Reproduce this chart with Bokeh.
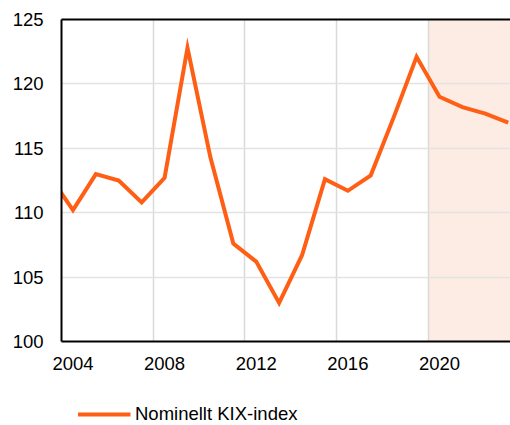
from bokeh.plotting import figure
from bokeh.layouts import column
from bokeh.models import (Range1d, FixedTicker, LinearAxis, BoxAnnotation, Legend, LegendItem)
from bokeh.embed import file_html
from bokeh.resources import INLINE

years = list(range(2003, 2024))
kix = [112.8, 110.2, 113.0, 112.5, 110.8, 112.7, 122.8, 114.3, 107.6, 106.2,
       103.0, 106.7, 112.6, 111.7, 112.9, 117.4, 122.1, 119.0, 118.2, 117.7, 117.0]
x_tick_labels = [2004, 2008, 2012, 2016, 2020]
y_ticks = [100, 105, 110, 115, 120, 125]
forecast_start = 2019.5
series_name = "Nominellt KIX-index"

FONT = "Liberation Sans"
FS = "18.5px"
ORANGE = "#ff5f14"

p = figure(frame_width=449, frame_height=322, output_backend="svg", toolbar_location=None,
           x_range=Range1d(2003.5, 2023.1), y_range=Range1d(100, 125),
           min_border_left=61, min_border_top=19, min_border_right=0, min_border_bottom=39,
           background_fill_color="white", border_fill_color="white")
p.outline_line_color = None

# forecast shading
shade = BoxAnnotation(left=forecast_start, fill_color="#fdece3", fill_alpha=1.0,
                      line_color=None, level="image")
p.add_layout(shade)

# axes
for ax in (p.xaxis[0], p.yaxis[0]):
    ax.axis_line_color = "black"
    ax.axis_line_width = 2
    ax.major_tick_in = 0
    ax.major_tick_out = 0
    ax.minor_tick_in = 0
    ax.minor_tick_out = 0
    ax.major_label_text_font = FONT
    ax.major_label_text_font_size = FS
    ax.major_label_text_color = "black"
p.xaxis.ticker = FixedTicker(ticks=x_tick_labels)
p.yaxis.ticker = FixedTicker(ticks=y_ticks)
p.xaxis.major_label_standoff = 15
p.yaxis.major_label_standoff = 18

top = LinearAxis(axis_line_color="black", axis_line_width=2,
                 major_tick_in=0, major_tick_out=0, minor_tick_in=0, minor_tick_out=0,
                 major_label_text_font_size="0px", ticker=FixedTicker(ticks=[]))
p.add_layout(top, "above")

# grid
p.xgrid.ticker = FixedTicker(ticks=[2007.5, 2011.5, 2015.5, 2019.5])
p.ygrid.ticker = FixedTicker(ticks=y_ticks)
p.xgrid.grid_line_color = "#dadada"
p.ygrid.grid_line_color = "#e3e3e3"
p.xgrid.grid_line_width = 1.5
p.ygrid.grid_line_width = 1.5

p.line(years, kix, line_color=ORANGE, line_width=4, line_join="miter")

# legend strip (the series is drawn here out of view; only its legend entry shows)
lg = figure(width=510, height=45, output_backend="svg", toolbar_location=None,
            x_range=Range1d(0, 1), y_range=Range1d(0, 1),
            min_border_left=61, min_border_top=0, min_border_right=0, min_border_bottom=0,
            x_axis_location=None, y_axis_location=None)
lg.outline_line_color = None
lg.xgrid.visible = False
lg.ygrid.visible = False
proxy = lg.line(years, kix, line_color=ORANGE, line_width=4)
legend = Legend(items=[LegendItem(label=series_name, renderers=[proxy])],
                location="bottom_center", orientation="horizontal",
                glyph_width=53, label_standoff=5, label_width=359,
                padding=0, margin=0, spacing=0,
                border_line_color=None, background_fill_alpha=0,
                label_text_font=FONT, label_text_font_size=FS,
                label_text_color="black")
lg.add_layout(legend)

layout = column(p, lg, spacing=0)
open("out.html", "w").write(file_html(layout, INLINE))
